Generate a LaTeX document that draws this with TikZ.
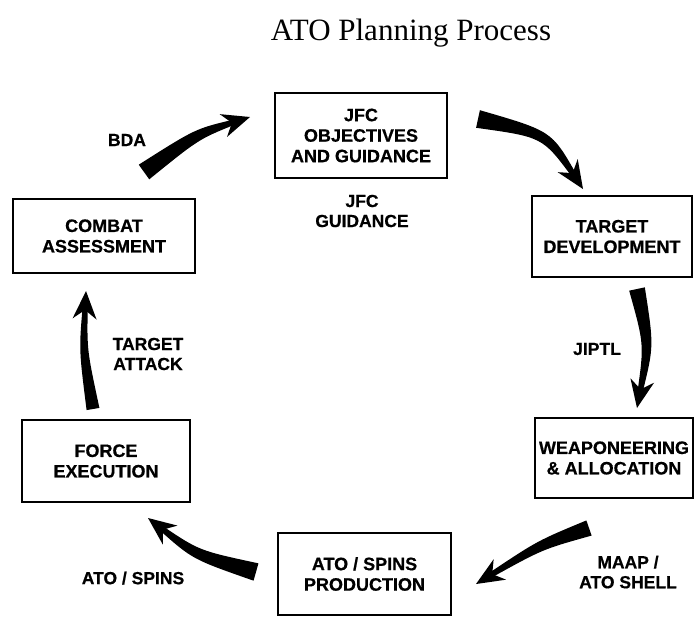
\documentclass[tikz,border=0pt]{standalone}
\usepackage{fontspec}
\setmainfont{Liberation Serif}
\newfontfamily\boxfont{Liberation Sans}[BoldFeatures={FakeBold=0.6}]
\usetikzlibrary{calc}

% tapered brush arrow: tail, bend, tip, half width at tail, half width at bend
\newcommand\brusharrow[5]{%
  \coordinate (bn) at ($(#3)!17pt!(#2)$);
  \coordinate (bb) at ($(#3)!28pt!(#2)$);
  \coordinate (bk) at ($(#3)!19pt!(#2)$);
  \fill ($(#1)!#4pt!90:(#2)$) .. controls ($(#2)!#5pt!90:(#3)$) .. ($(bn)!2.6pt!90:(#3)$)
    -- ($(bn)!2.6pt!-90:(#3)$) .. controls ($(#2)!#5pt!-90:(#3)$) .. ($(#1)!#4pt!-90:(#2)$) -- cycle;
  \fill (#3) -- ($(bb)!12pt!90:(#3)$) -- (bk) -- ($(bb)!12pt!-90:(#3)$) -- cycle;
}

\tikzset{
  stepbox/.style={draw, line width=1.2pt, align=center, inner sep=0pt,
    font=\boxfont\bfseries\fontsize{18}{20.5}\selectfont},
  flowlabel/.style={align=center, inner sep=0pt,
    font=\boxfont\bfseries\fontsize{17.5}{20}\selectfont}
}

\begin{document}
\begin{tikzpicture}[x=1pt,y=-1pt]
\useasboundingbox (0,0) rectangle (694,625);

% Title
\node (title) at (411,33) {\fontsize{31}{36}\selectfont ATO Planning Process};

% Boxes
\node[stepbox, minimum width=172pt, minimum height=85pt] (jfc) at (361,135.5) {JFC\\OBJECTIVES\\AND GUIDANCE};
\node[stepbox, minimum width=160pt, minimum height=81pt] (tdev) at (612,236.5) {TARGET\\DEVELOPMENT};
\node[stepbox, minimum width=158pt, minimum height=80pt] (weap) at (614,458) {WEAPONEERING\\\& ALLOCATION};
\node[stepbox, minimum width=173pt, minimum height=82pt] (prod) at (364.5,574) {ATO / SPINS\\PRODUCTION};
\node[stepbox, minimum width=168pt, minimum height=82pt] (force) at (106,461) {FORCE\\EXECUTION};
\node[stepbox, minimum width=182pt, minimum height=74pt] (combat) at (104,236) {COMBAT\\ASSESSMENT};

% Labels
\node[flowlabel] (bda) at (127,140) {BDA};
\node[flowlabel] (jfcg) at (362,211) {JFC\\GUIDANCE};
\node[flowlabel] (jiptl) at (597,349) {JIPTL};
\node[flowlabel] (maap) at (628,572) {MAAP /\\ATO SHELL};
\node[flowlabel] (atospins) at (133,578) {ATO / SPINS};
\node[flowlabel] (attack) at (148,354) {TARGET\\ATTACK};

% Arrow ends
\coordinate (bdaT) at (144,172);  \coordinate (bdaC) at (197,134);  \coordinate (bdaH) at (250,117);
\coordinate (jfcT) at (478,119);  \coordinate (jfcC) at (547,134);  \coordinate (jfcH) at (583,189);
\coordinate (tdT) at (637,289);   \coordinate (tdC) at (649,345);   \coordinate (tdH) at (637,408);
\coordinate (weT) at (589,528);   \coordinate (weC) at (540,545);   \coordinate (weH) at (476,584);
\coordinate (prT) at (256,572);   \coordinate (prC) at (196,555);   \coordinate (prH) at (148,518);
\coordinate (foT) at (93,409);    \coordinate (foC) at (83,350);    \coordinate (foH) at (86,291);

% Arrows
\brusharrow{bdaT}{bdaC}{bdaH}{9}{5.5}
\brusharrow{jfcT}{jfcC}{jfcH}{9}{5.5}
\brusharrow{tdT}{tdC}{tdH}{8}{5}
\brusharrow{weT}{weC}{weH}{8}{5}
\brusharrow{prT}{prC}{prH}{9}{5.5}
\brusharrow{foT}{foC}{foH}{6.5}{4}

\end{tikzpicture}
\end{document}
